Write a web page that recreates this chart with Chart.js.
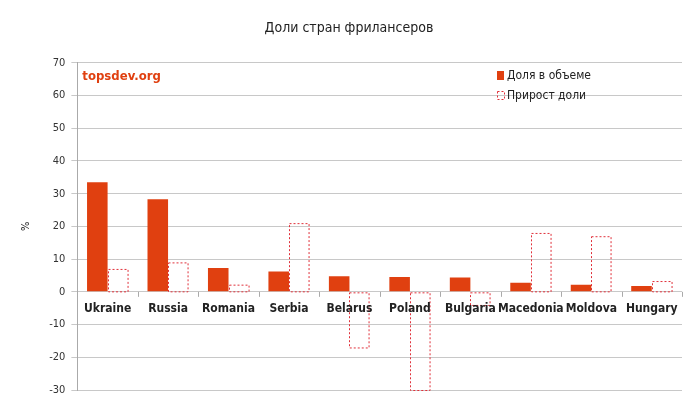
<!DOCTYPE html><html><head><meta charset="utf-8">
<script src="https://cdn.jsdelivr.net/npm/chart.js@4"></script>
<style>body{margin:0;background:#fff}#w{width:685px;height:408px}</style></head><body><div id="w"><canvas id="c"></canvas></div>
<script>
const categories=["Ukraine","Russia","Romania","Serbia","Belarus","Poland","Bulgaria","Macedonia","Moldova","Hungary"];
const shareValues=[33.5,28.3,7.3,6.2,4.8,4.5,4.4,2.8,2.2,1.8];
const growthValues=[7,9,2.2,21,-17,-30,-4,18,17,3.3];
const yTicks=[-30,-20,-10,0,10,20,30,40,50,60,70];
const F='"DejaVu Sans Condensed","DejaVu Sans",sans-serif';
const deco={id:'deco',afterDatasetsDraw(ch){
 const c=ch.ctx,a=ch.chartArea,y=ch.scales.y,x=ch.scales.x;
 const m=ch.getDatasetMeta(1);
 c.save();c.strokeStyle='#e0303a';c.lineWidth=1;c.setLineDash([2,2]);
 m.data.forEach(b=>{const l=b.x-b.width/2;c.strokeRect(Math.round(l)+.5,Math.min(b.y,b.base)+.5,b.width-1,Math.abs(b.base-b.y));});
 c.setLineDash([]);
 const z=y.getPixelForValue(0);
 c.fillStyle='#222';c.font='bold 12px '+F;c.textAlign='center';c.textBaseline='middle';
 categories.forEach((t,i)=>c.fillText(t,x.getPixelForValue(i),z+17));
 c.strokeStyle='#aaa';
 for(let i=0;i<=categories.length;i++){const px=Math.round(a.left+(a.right-a.left)*i/categories.length)+.5;c.beginPath();c.moveTo(px,z);c.lineTo(px,z+5);c.stroke();}
 c.fillStyle='#e04010';c.font='bold 13px '+F;c.textAlign='left';c.fillText('topsdev.org',a.left+5,a.top+14);
 c.font='12px '+F;
 c.fillStyle='#e04010';c.fillRect(497,71,7,9);c.fillStyle='#222';c.fillText('Доля в объеме',507,76);
 c.strokeStyle='#e0303a';c.setLineDash([2,2]);c.strokeRect(497.5,91.5,7,8);c.setLineDash([]);c.fillText('Прирост доли',507,96);
 c.restore();}};
new Chart(document.getElementById('c'),{type:'bar',
data:{labels:categories,datasets:[
 {label:'Доля в объеме',data:shareValues,backgroundColor:'#e04010',borderWidth:0},
 {label:'Прирост доли',data:growthValues,backgroundColor:'rgba(0,0,0,0)',borderWidth:0}]},
options:{responsive:true,maintainAspectRatio:false,animation:false,
 layout:{padding:{left:16,right:3,bottom:10}},
 datasets:{bar:{categoryPercentage:0.68,barPercentage:1}},
 plugins:{legend:{display:false},tooltip:{enabled:false},
  title:{display:true,text:'Доли стран фрилансеров',color:'#222',font:{family:F,size:14,weight:'normal'},padding:{top:20,bottom:26}}},
 scales:{x:{ticks:{display:false},grid:{display:false},border:{display:false}},
  y:{min:-30,max:70,afterBuildTicks:s=>{s.ticks=yTicks.map(v=>({value:v}));},
   ticks:{color:'#333',font:{family:F,size:11},padding:6},
   grid:{color:'#c8c8c8',tickLength:6},border:{color:'#aaa'},
   title:{display:true,text:'%',color:'#222',font:{family:F,size:11},padding:{bottom:10}}}}},
plugins:[deco]});
</script></body></html>
